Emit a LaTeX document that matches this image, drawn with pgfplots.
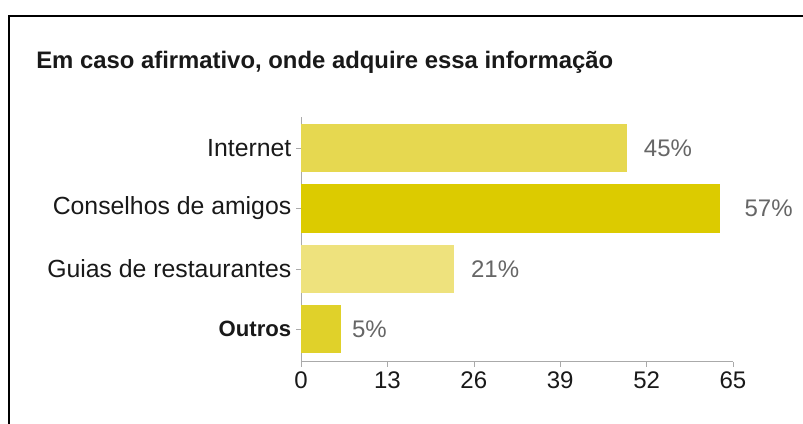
\documentclass[border=0pt]{standalone}
\usepackage{pgfplots}
\pgfplotsset{compat=1.18}
\usepackage{fontspec}
\setmainfont{Liberation Sans}
\definecolor{cInt}{HTML}{E6D850}
\definecolor{cCon}{HTML}{DCCB00}
\definecolor{cGui}{HTML}{EEE27D}
\definecolor{cOut}{HTML}{E0D12A}
\definecolor{lblgray}{HTML}{666666}
\definecolor{axgray}{HTML}{AAAAAA}
\begin{document}
\begin{tikzpicture}[x=0.75pt,y=0.75pt]
\useasboundingbox (0,0) rectangle (803,424);
\fill[white] (0,0) rectangle (803,424);
\draw[line width=1.5pt] (9,0) -- (9,408) -- (803,408);
\node[anchor=base west, font=\bfseries\fontsize{17.9}{20}\selectfont, inner sep=0pt, text=black!90] at (36,355.5) {Em caso afirmativo, onde adquire essa informação};
\begin{axis}[
  at={(301pt*0.75,62.3pt*0.75)}, anchor=south west,
  scale only axis, width=324pt, height=183.75pt,
  xmin=0, xmax=65, ymin=-0.543, ymax=3.525,
  clip=false,
  axis x line*=bottom, axis y line*=left,
  axis line style={draw=axgray, -},
  xtick={0,13,26,39,52,65},
  ytick={0,1,2,3},
  yticklabels={{\fontsize{16.6}{20}\selectfont\textbf{Outros}},Guias de restaurantes,Conselhos de amigos,Internet},
  tick align=outside, major tick length=3.75pt,
  tick style={draw=axgray},
  xticklabel style={font=\fontsize{18}{20}\selectfont, text=black!90},
  yticklabel style={font=\fontsize{18.6}{20}\selectfont, text=black!90},
  /pgf/number format/assume math mode=true,
  xbar, bar width=0.8, bar shift=0pt,
  every node near coord/.style={anchor=west, inner sep=0pt, font=\fontsize{18}{20}\selectfont, text=lblgray},
]
\addplot[fill=cInt, draw=none, nodes near coords={45\%}, every node near coord/.append style={xshift=12.75pt}] coordinates {(49,3)};
\addplot[fill=cCon, draw=none, nodes near coords={57\%}, every node near coord/.append style={xshift=18.5pt}] coordinates {(63,2)};
\addplot[fill=cGui, draw=none, nodes near coords={21\%}, every node near coord/.append style={xshift=12.75pt}] coordinates {(23,1)};
\addplot[fill=cOut, draw=none, nodes near coords={5\%}, every node near coord/.append style={xshift=8.25pt}] coordinates {(6,0)};
\end{axis}
\end{tikzpicture}
\end{document}
